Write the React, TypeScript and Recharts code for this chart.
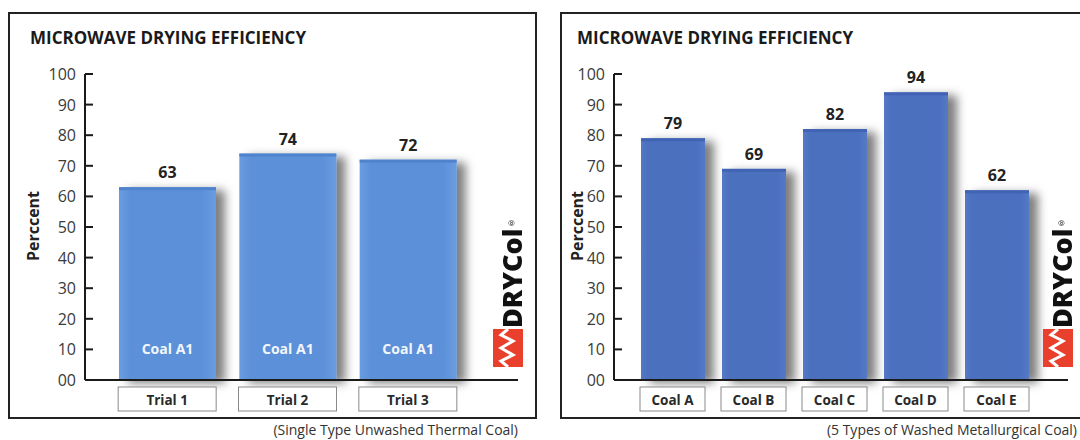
import { Bar, BarChart, LabelList, XAxis, YAxis } from "recharts";

const trialCategories = ["Trial 1", "Trial 2", "Trial 3"];
const trialValues = [63, 74, 72];
const trialInnerLabels = ["Coal A1", "Coal A1", "Coal A1"];

const coalCategories = ["Coal A", "Coal B", "Coal C", "Coal D", "Coal E"];
const coalValues = [79, 69, 82, 94, 62];

const yTicks = [0, 10, 20, 30, 40, 50, 60, 70, 80, 90, 100];

const FONT = "'Open Sans', 'Noto Sans', sans-serif";

const trialData = trialCategories.map((name, i) => ({
  name,
  value: trialValues[i],
  inner: trialInnerLabels[i],
}));
const coalData = coalCategories.map((name, i) => ({ name, value: coalValues[i] }));

const YTick = ({ x, y, payload }: any) => (
  <g>
    <line x1={x + 9} x2={x + 17} y1={y} y2={y} stroke="#1a1a1a" strokeWidth={2} />
    <text x={x} y={y} textAnchor="end" dominantBaseline="central" fontSize={16} fill="#3a3a3a" fontFamily={FONT}>
      {payload.value === 0 ? "00" : payload.value}
    </text>
  </g>
);

const makeXTick = (boxWidth: number) => ({ x, y, payload }: any) => (
  <g>
    <rect x={x - boxWidth / 2} y={y + 7} width={boxWidth} height={24} fill="#fff" stroke="#8a8a8a" strokeWidth={1} />
    <text x={x} y={y + 19.5} textAnchor="middle" dominantBaseline="central" fontSize={13.5} fontWeight={700} fill="#2a2a2a" fontFamily={FONT}>
      {payload.value}
    </text>
  </g>
);

const makeShadowBar = (id: string, topColor: string) => (props: any) => {
  const { x, y, width, height } = props;
  return (
    <g>
      <rect x={x} y={y} width={width} height={height} fill={`url(#grad-${id})`} filter={`url(#shadow-${id})`} />
      <rect x={x} y={y} width={width} height={3} fill={topColor} />
    </g>
  );
};

function Logo({ left, top }: { left: number; top: number }) {
  return (
    <div style={{ position: "absolute", left, top, width: 32, height: 160 }}>
      <div
        style={{
          position: "absolute",
          left: 5,
          top: 0,
          height: 116,
          writingMode: "vertical-rl",
          transform: "rotate(180deg)",
          fontFamily: FONT,
          fontWeight: 800,
          fontSize: 27,
          lineHeight: "27px",
          color: "#111",
          textAlign: "left",
          whiteSpace: "nowrap",
        }}
      >
        DRYCol<span style={{ fontSize: 8, fontWeight: 400 }}>®</span>
      </div>
      <svg style={{ position: "absolute", left: 0, top: 117 }} width={30} height={38}>
        <rect x={0} y={0} width={30} height={38} fill="#e8402c" />
        <polyline
          points="15,0 8,6 20,12 8,19 20,26 8,32 15,38"
          fill="none"
          stroke="#fff"
          strokeWidth={3}
        />
      </svg>
    </div>
  );
}

function Panel(props: {
  id: string;
  left: number;
  data: any[];
  barSize: number;
  boxWidth: number;
  marginLeft: number;
  marginRight: number;
  padLeft: number;
  padRight: number;
  c1: string;
  c2: string;
  topColor: string;
  inner: boolean;
}) {
  const { id, left, data, barSize, boxWidth, marginLeft, marginRight, padLeft, padRight, c1, c2, topColor, inner } = props;
  return (
    <div style={{ position: "absolute", left, top: 0 }}>
      <BarChart
        width={540}
        height={440}
        data={data}
        margin={{ top: 74, right: marginRight, bottom: 20, left: marginLeft }}
        barCategoryGap={0}
      >
        <defs>
          <linearGradient id={`grad-${id}`} x1="0" y1="0" x2="1" y2="0">
            <stop offset="0%" stopColor={c2} />
            <stop offset="12%" stopColor={c1} />
            <stop offset="85%" stopColor={c1} />
            <stop offset="100%" stopColor={c2} />
          </linearGradient>
          <filter id={`shadow-${id}`} x="-20%" y="-10%" width="160%" height="120%">
            <feDropShadow dx="9" dy="3" stdDeviation="5" floodColor="#000" floodOpacity="0.5" />
          </filter>
        </defs>
        <XAxis
          dataKey="name"
          height={40}
          axisLine={{ stroke: "#1a1a1a", strokeWidth: 2 }}
          tickLine={false}
          tickSize={0}
          tickMargin={0}
          interval={0}
          padding={{ left: padLeft, right: padRight }}
          tick={makeXTick(boxWidth)}
        />
        <YAxis
          width={60}
          domain={[0, 100]}
          ticks={yTicks}
          interval={0}
          axisLine={{ stroke: "#1a1a1a", strokeWidth: 2 }}
          tickLine={false}
          tickSize={0}
          tickMargin={9}
          tick={<YTick />}
        />
        <Bar dataKey="value" barSize={barSize} isAnimationActive={false} shape={makeShadowBar(id, topColor)}>
          <LabelList
            dataKey="value"
            position="top"
            offset={9}
            style={{ fontSize: 16, fontWeight: 700, fill: "#222", fontFamily: FONT }}
          />
          {inner && (
            <LabelList
              dataKey="inner"
              position="insideBottom"
              offset={26}
              style={{ fontSize: 14, fontWeight: 700, fill: "#f2f6fc", fontFamily: FONT }}
            />
          )}
        </Bar>
      </BarChart>
    </div>
  );
}

const titleStyle: any = {
  position: "absolute",
  top: 29,
  fontFamily: FONT,
  fontWeight: 700,
  fontSize: 17,
  lineHeight: "17px",
  color: "#1a1a1a",
  whiteSpace: "nowrap",
};

const yLabelStyle: any = {
  position: "absolute",
  width: 100,
  textAlign: "center",
  fontFamily: FONT,
  fontWeight: 700,
  fontSize: 16,
  lineHeight: "16px",
  color: "#222",
  transform: "rotate(-90deg)",
};

const subStyle: any = {
  position: "absolute",
  top: 422,
  fontFamily: FONT,
  fontSize: 14,
  lineHeight: "16px",
  color: "#333",
  whiteSpace: "nowrap",
  textAlign: "right",
};

export default function App() {
  return (
    <div style={{ position: "absolute", left: 0, top: 0, width: 1080, height: 440, background: "#fff", overflow: "hidden" }}>
      <div style={{ position: "absolute", left: 8, top: 12, width: 529, height: 407, border: "2px solid #222", boxSizing: "border-box" }} />
      <div style={{ position: "absolute", left: 560, top: 12, width: 540, height: 407, border: "2px solid #222", boxSizing: "border-box" }} />

      <Panel
        id="l"
        left={0}
        data={trialData}
        barSize={97}
        boxWidth={98}
        marginLeft={25}
        marginRight={22}
        padLeft={22}
        padRight={50}
        c1="#5b90d8"
        c2="#6a9ce0"
        topColor="#4f83cc"
        inner
      />
      <Panel
        id="r"
        left={540}
        data={coalData}
        barSize={64}
        boxWidth={65}
        marginLeft={14}
        marginRight={12}
        padLeft={18}
        padRight={31}
        c1="#4b6fbe"
        c2="#5479c6"
        topColor="#4063b3"
        inner={false}
      />

      <div style={{ ...titleStyle, left: 30 }}>MICROWAVE DRYING EFFICIENCY</div>
      <div style={{ ...titleStyle, left: 577 }}>MICROWAVE DRYING EFFICIENCY</div>

      <div style={{ ...yLabelStyle, left: -17, top: 218 }}>Perccent</div>
      <div style={{ ...yLabelStyle, left: 527, top: 218 }}>Perccent</div>

      <Logo left={493} top={212} />
      <Logo left={1043} top={212} />

      <div style={{ ...subStyle, right: 1080 - 518 }}>(Single Type Unwashed Thermal Coal)</div>
      <div style={{ ...subStyle, right: 3 }}>(5 Types of Washed Metallurgical Coal)</div>
    </div>
  );
}
